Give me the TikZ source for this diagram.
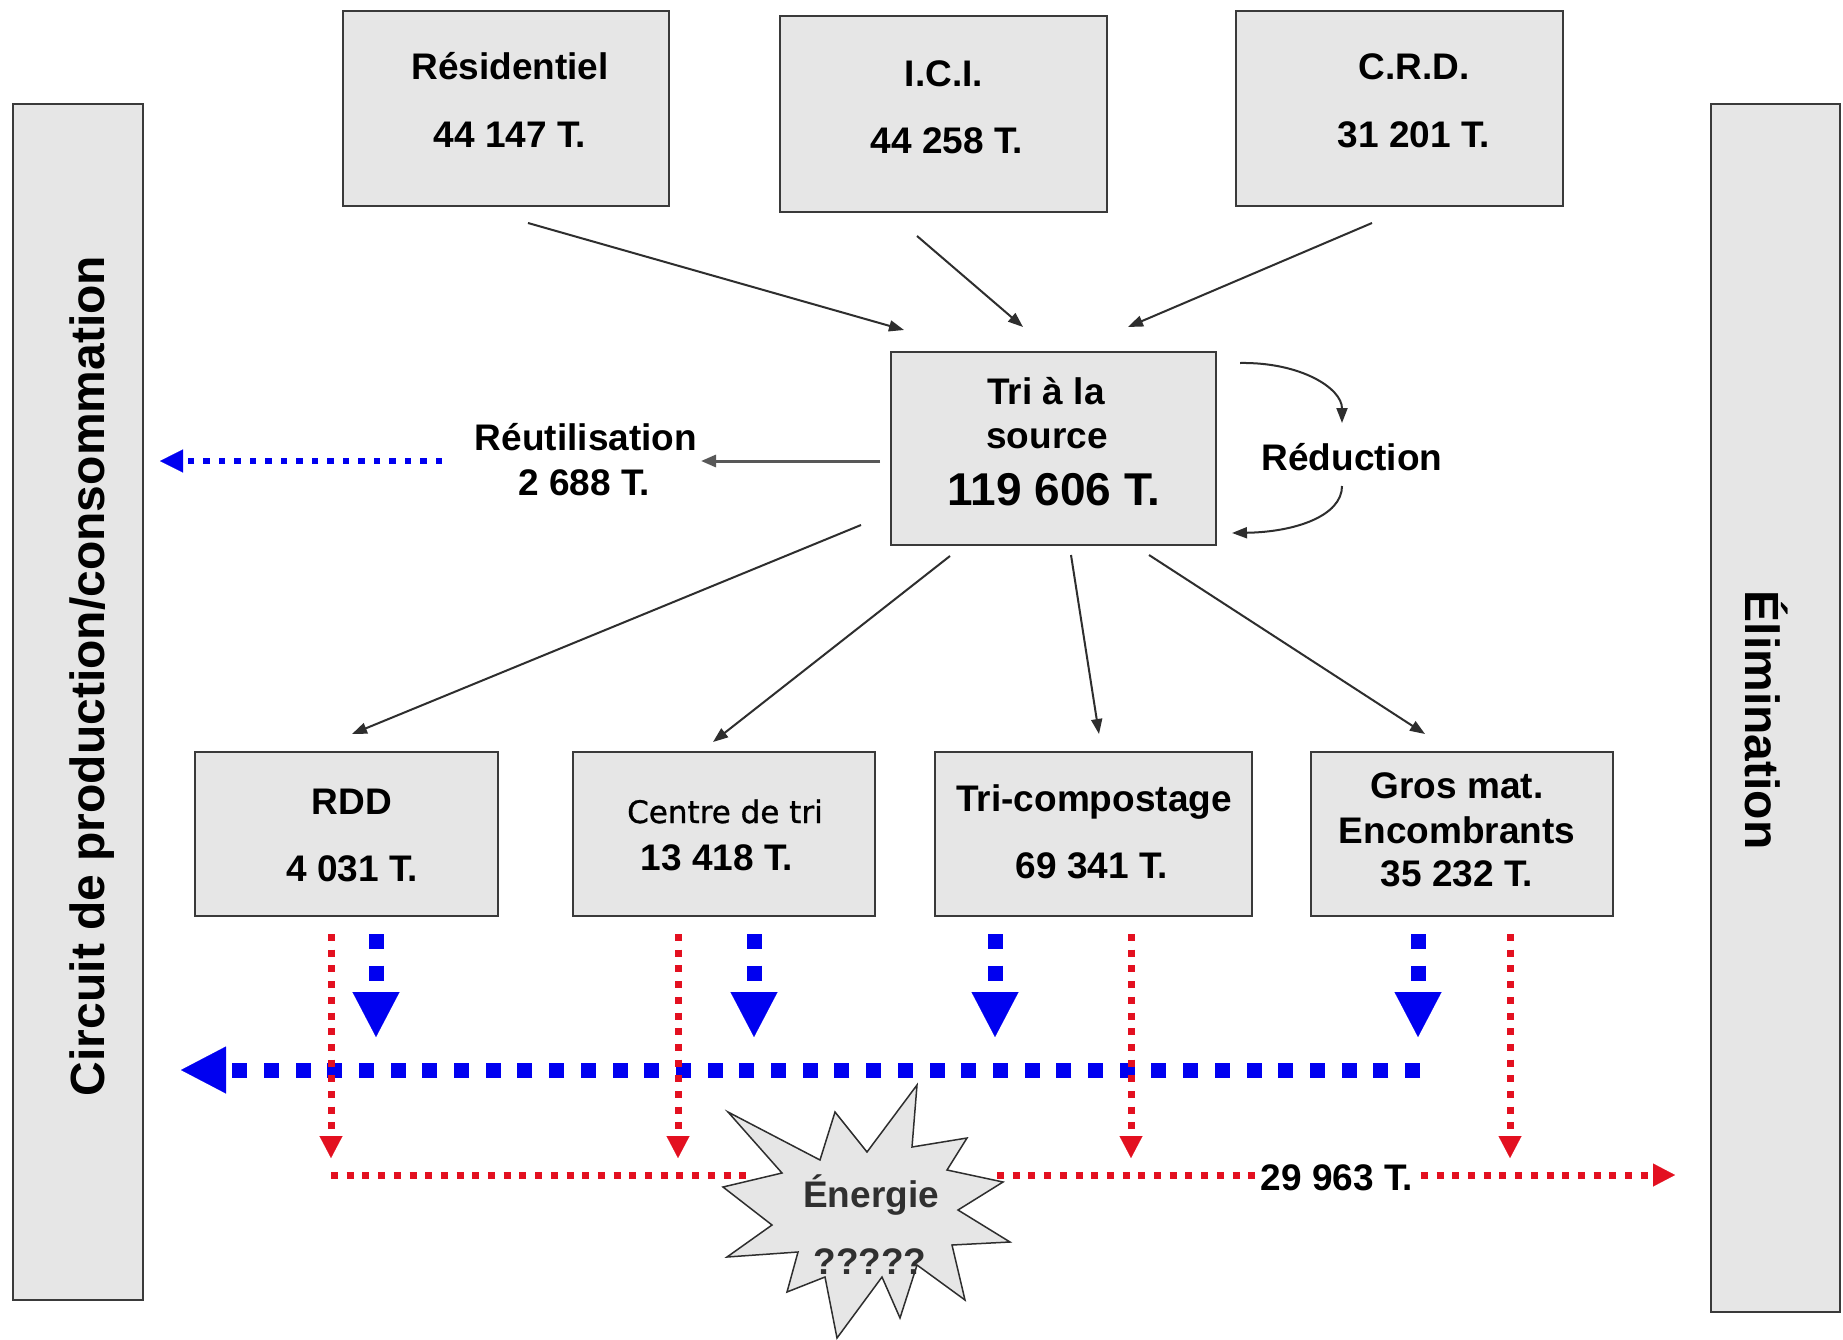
\documentclass[tikz,border=0pt]{standalone}
\usepackage{fontspec}
\setmainfont{Liberation Sans}
\newfontfamily\verdsans[FakeBold=1]{DejaVu Sans}
\usetikzlibrary{arrows.meta}
\definecolor{boxfill}{HTML}{E6E6E6}
\definecolor{boxline}{HTML}{3A3A3A}
\definecolor{bblue}{HTML}{0000F0}
\definecolor{rred}{HTML}{E31020}
\definecolor{darkline}{HTML}{2E2E2E}
\definecolor{txtgray}{HTML}{303030}
\tikzset{
  box/.style={draw=boxline, line width=2.5pt, fill=boxfill, inner sep=0pt, outer sep=0pt},
  lbl/.style={font=\fontsize{37}{44}\selectfont\bfseries, anchor=base, inner sep=0pt},
  biglbl/.style={font=\fontsize{46}{54}\selectfont\bfseries, anchor=base, inner sep=0pt},
  vlbl/.style={font=\fontsize{48}{56}\selectfont\bfseries, anchor=base, inner sep=0pt},
  thinarrow/.style={draw=darkline, line width=2pt, -{Triangle[length=15pt,width=11pt]}},
  grayarrow/.style={draw=darkline!80, line width=3pt, -{Triangle[length=15pt,width=12pt]}},
  bluethick/.style={draw=bblue, line width=15pt, dash pattern=on 15pt off 16.7pt,
     -{Triangle[length=45pt,width=47pt,line width=0.1pt]}},
  bluesmall/.style={draw=bblue, line width=6.5pt, dash pattern=on 6.5pt off 9pt,
     -{Triangle[length=23pt,width=23pt,line width=0.1pt]}},
  redline/.style={draw=rred, line width=7pt, dash pattern=on 7pt off 8.7pt},
  redarrow/.style={redline, -{Triangle[length=22pt,width=23pt,line width=0.1pt]}},
  starshape/.style={draw=darkline, fill=boxfill, line width=1.5pt, line join=miter}
}
\begin{document}
\begin{tikzpicture}[x=1pt,y=-1pt]
\useasboundingbox (0,0) rectangle (1843,1340);
\fill[white] (0,0) rectangle (1843,1340);

% side boxes
\node[box, minimum width=130pt, minimum height=1196pt] (circ) at (78,702) {};
\node[vlbl, rotate=90] (circT) at (104,676) {Circuit de production/consommation};
\node[box, minimum width=129pt, minimum height=1208pt] (elim) at (1775.5,708) {};
\node[vlbl, rotate=-90] (elimT) at (1745,720) {Élimination};

% top boxes
\node[box, minimum width=326pt, minimum height=195pt] (res) at (506,108.5) {};
\node[lbl] (resT) at (510,80) {Résidentiel};
\node[lbl] (resN) at (510,148) {44 147 T.};
\node[box, minimum width=327pt, minimum height=196pt] (ici) at (943.5,114) {};
\node[lbl] (iciT) at (944,87) {I.C.I.};
\node[lbl] (iciN) at (947,154) {44 258 T.};
\node[box, minimum width=327pt, minimum height=195pt] (crd) at (1399.5,108.5) {};
\node[lbl] (crdT) at (1414,80) {C.R.D.};
\node[lbl] (crdN) at (1414,148) {31 201 T.};

% central box
\node[box, minimum width=325pt, minimum height=193pt] (tri) at (1053.5,448.5) {};
\node[lbl] (triT1) at (1046,404) {Tri à la};
\node[lbl] (triT2) at (1047,448) {source};
\node[biglbl] (triN) at (1054,505) {119 606 T.};

% reutilisation / reduction labels
\node[lbl] (reuT) at (586,450) {Réutilisation};
\node[lbl] (reuN) at (584,495) {2 688 T.};
\node[lbl] (redT) at (1352,470) {Réduction};

% bottom boxes
\node[box, minimum width=303pt, minimum height=164pt] (rdd) at (346.5,834) {};
\node[lbl] (rddT) at (352,814) {RDD};
\node[lbl] (rddN) at (352,881) {4 031 T.};
\node[box, minimum width=302pt, minimum height=164pt] (ctri) at (724,834) {};
\node[font=\verdsans\fontsize{31}{38}\selectfont, anchor=base, inner sep=0pt] (ctriT) at (725,823) {Centre de tri};
\node[lbl] (ctriN) at (717,870) {13 418 T.};
\node[box, minimum width=317pt, minimum height=164pt] (tcomp) at (1093.5,834) {};
\node[lbl] (tcompT) at (1094,811) {Tri-compostage};
\node[lbl] (tcompN) at (1092,878) {69 341 T.};
\node[box, minimum width=302pt, minimum height=164pt] (gros) at (1462,834) {};
\node[lbl] (grosT1) at (1457,798) {Gros mat.};
\node[lbl] (grosT2) at (1457,843) {Encombrants};
\node[lbl] (grosN) at (1457,886) {35 232 T.};

% connector end points
\coordinate (resS) at (528,223);   \coordinate (triNW) at (904,330);
\coordinate (iciS) at (917,236);   \coordinate (triNN) at (1023,327);
\coordinate (crdS) at (1372,223);  \coordinate (triNE) at (1128,327);
\coordinate (triW) at (880,461);   \coordinate (reuE) at (701,461);
\coordinate (reuW) at (442,461);   \coordinate (circE) at (160,461);
\coordinate (triSW) at (861,525);  \coordinate (rddN) at (352,734);
\coordinate (triS1) at (950,556);  \coordinate (ctriNN) at (713,742);
\coordinate (triS2) at (1071,555); \coordinate (tcompNN) at (1099,734);
\coordinate (triS3) at (1149,555); \coordinate (grosNN) at (1425,734);
\coordinate (redA1) at (1240,363); \coordinate (redA2) at (1342,423);
\coordinate (redB1) at (1342,486); \coordinate (redB2) at (1232,533);

\draw[thinarrow] (resS) -- (triNW);
\draw[thinarrow] (iciS) -- (triNN);
\draw[thinarrow] (crdS) -- (triNE);
\draw[grayarrow] (triW) -- (reuE);
\draw[bluesmall] (reuW) -- (circE);
\draw[thinarrow] (triSW) -- (rddN);
\draw[thinarrow] (triS1) -- (ctriNN);
\draw[thinarrow] (triS2) -- (tcompNN);
\draw[thinarrow] (triS3) -- (grosNN);
\draw[thinarrow] (redA1) .. controls (1300,362) and (1342,388) .. (redA2);
\draw[thinarrow] (redB1) .. controls (1342,516) and (1295,532) .. (redB2);

% blue recycling flows
\coordinate (b1a) at (376,934);  \coordinate (b1b) at (376,1037);
\coordinate (b2a) at (754,934);  \coordinate (b2b) at (754,1037);
\coordinate (b3a) at (995,934);  \coordinate (b3b) at (995,1037);
\coordinate (b4a) at (1418,934); \coordinate (b4b) at (1418,1037);
\coordinate (bhR) at (1420,1070); \coordinate (bhL) at (181,1070);
\draw[bluethick] (b1a) -- (b1b);
\draw[bluethick] (b2a) -- (b2b);
\draw[bluethick] (b3a) -- (b3b);
\draw[bluethick] (b4a) -- (b4b);
\draw[bluethick] (bhR) -- (bhL);

% energy star
\draw[starshape] (728,1112) -- (820,1160) -- (835,1112) -- (867,1152) -- (917,1085)
  -- (912,1147) -- (967,1138) -- (947,1170) -- (1003,1182) -- (958,1210)
  -- (1010,1242) -- (952,1245) -- (965,1300) -- (917,1265) -- (900,1318)
  -- (882,1277) -- (837,1338) -- (825,1277) -- (787,1292) -- (798,1252)
  -- (727,1257) -- (772,1225) -- (723,1187) -- (782,1173) -- cycle;
\node[lbl, text=txtgray] (enT) at (871,1207) {Énergie};
\node[lbl, text=txtgray] (enQ) at (870,1274) {?????};

% red elimination flows
\coordinate (r1a) at (331,934);  \coordinate (r1b) at (331,1158);
\coordinate (r2a) at (678,934);  \coordinate (r2b) at (678,1158);
\coordinate (r3a) at (1131,934); \coordinate (r3b) at (1131,1158);
\coordinate (r4a) at (1510,934); \coordinate (r4b) at (1510,1158);
\coordinate (rlA) at (331,1175); \coordinate (rlB) at (754,1175);
\coordinate (rrA) at (997,1175); \coordinate (rrB) at (1675,1175);
\draw[redarrow] (r1a) -- (r1b);
\draw[redarrow] (r2a) -- (r2b);
\draw[redarrow] (r3a) -- (r3b);
\draw[redarrow] (r4a) -- (r4b);
\draw[redline] (rlA) -- (rlB);
\draw[redarrow] (rrA) -- (rrB);
\node[lbl, fill=white, inner xsep=6pt, inner ysep=3pt] (totT) at (1337,1190) {29 963 T.};
\end{tikzpicture}
\end{document}
